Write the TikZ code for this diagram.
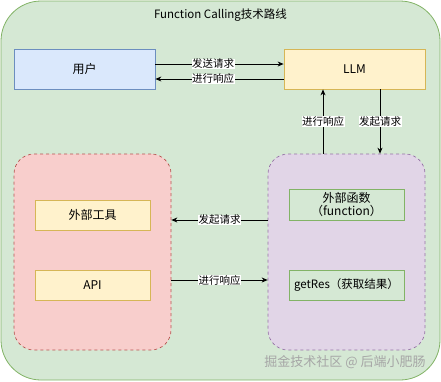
\documentclass[tikz,border=0pt]{standalone}
\usepackage{fontspec}
\setmainfont{Noto Sans CJK SC}
\usetikzlibrary{arrows.meta,positioning}
\definecolor{greenfill}{HTML}{D5E8D4}
\definecolor{greendraw}{HTML}{82B366}
\definecolor{bluefill}{HTML}{DAE8FC}
\definecolor{bluedraw}{HTML}{6C8EBF}
\definecolor{yellowfill}{HTML}{FFF2CC}
\definecolor{yellowdraw}{HTML}{D6B656}
\definecolor{redfill}{HTML}{F8CECC}
\definecolor{reddraw}{HTML}{B85450}
\definecolor{purplefill}{HTML}{E1D5E7}
\definecolor{purpledraw}{HTML}{9673A6}

\begin{document}
\begin{tikzpicture}[x=1pt, y=-1pt,
    frame/.style={draw=greendraw, fill=greenfill, rounded corners=40pt, line width=0.8pt},
    big/.style={draw, minimum width=141pt, minimum height=40pt, align=center, font=\fontsize{12}{14}\selectfont, line width=0.8pt},
    group/.style={draw, dashed, rounded corners=20pt, minimum width=157pt, minimum height=196pt, line width=0.7pt},
    item/.style={draw, minimum width=115pt, minimum height=30pt, align=center, font=\fontsize{12}{13}\selectfont, line width=0.8pt},
    arr/.style={-{Stealth[length=6pt,width=5pt]}, line width=0.8pt},
    lbl/.style={font=\fontsize{10.5}{12}\selectfont, fill=white, inner sep=0.5pt}
]
\useasboundingbox (0,0) rectangle (441,381);
\draw[frame] (1,1) rectangle (440,380);
\node[font=\fontsize{11.5}{13}\selectfont] (title) at (220.5,15) {Function Calling技术路线};

\node[big, fill=bluefill, draw=bluedraw] (user) at (84.5,69) {用户};
\node[big, fill=yellowfill, draw=yellowdraw] (llm) at (354.5,69) {LLM};

\node[group, fill=redfill, draw=reddraw] (tools) at (92.5,252) {};
\node[group, fill=purplefill, draw=purpledraw] (funcs) at (346.5,252) {};

\node[item, fill=yellowfill, draw=yellowdraw] (tool) at (92.5,215) {外部工具};
\node[item, fill=yellowfill, draw=yellowdraw] (api) at (92.5,285) {API};
\node[item, fill=greenfill, draw=greendraw] (func) at (346.5,205) {外部函数\\（function）};
\node[item, fill=greenfill, draw=greendraw, font=\fontsize{11.5}{13}\selectfont] (getres) at (346.5,285) {getRes（获取结果）};

\draw[arr] ([yshift=5pt]user.east) -- node[lbl, pos=0.45] {发送请求} ([yshift=5pt]llm.west);
\draw[arr] ([yshift=-10pt]llm.west) -- node[lbl, pos=0.55] {进行响应} ([yshift=-10pt]user.east);
\draw[arr] ([xshift=-31.5pt]llm.south |- funcs.north) -- node[lbl] {进行响应} ([xshift=-31.5pt]llm.south);
\draw[arr] ([xshift=25.5pt]llm.south) -- node[lbl] {发起请求} ([xshift=25.5pt]llm.south |- funcs.north);
\draw[arr] ([yshift=32pt]funcs.west) -- node[lbl] {发起请求} ([yshift=32pt]tools.east);
\draw[arr] ([yshift=-28pt]tools.east) -- node[lbl] {进行响应} ([yshift=-28pt]funcs.west);

\node[text=black!35, font=\fontsize{13}{15}\selectfont] (mark) at (345,362) {掘金技术社区 @ 后端小肥肠};
\end{tikzpicture}
\end{document}
